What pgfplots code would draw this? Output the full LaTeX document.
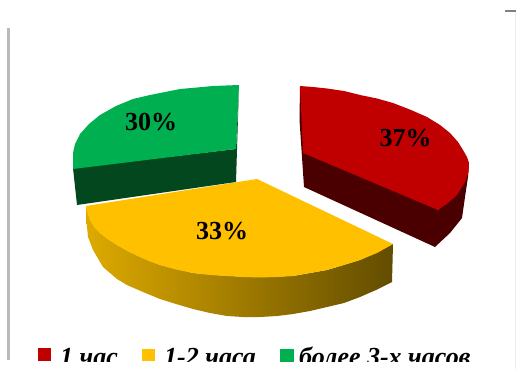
\documentclass[border=0pt]{standalone}
\usepackage{pgfplots}
\pgfplotsset{compat=1.18}
\usepackage{fontspec}
\setmainfont{Liberation Serif}
\definecolor{cred}{HTML}{C00000}
\definecolor{cdred}{HTML}{4A0000}
\definecolor{cyel}{HTML}{FFC000}
\definecolor{cgre}{HTML}{00B050}
\definecolor{cdgre}{HTML}{03471F}
\begin{document}
\begin{tikzpicture}
\begin{axis}[
  scale only axis, width=516pt, height=369pt,
  xmin=0, xmax=516, ymin=0, ymax=369, y dir=reverse,
  axis lines=none, clip=true,
  every axis plot/.append style={line width=0pt, draw=none}
]
% white page, which also fixes the extent of the picture
\addplot[fill=white] coordinates {(0,0) (516,0) (516,369) (0,369)} -- cycle;
% frame lines
\addplot[draw=black!27, line width=2.6pt] coordinates {(8.5,28) (8.5,360)};
\addplot[draw=black!50, line width=2pt] coordinates {(505,11) (516,11)};
\addplot[draw=black!7, line width=1pt] coordinates {(515,12) (515,369)};
% yellow side (gradient)
\addplot[draw=none, left color={rgb,255:red,222;green,170;blue,0}, right color={rgb,255:red,98;green,76;blue,0}] coordinates {
(86,206) (86.5,222) (88,237) (93,250) (103,267) (117,279) (127,285) (143,292) (160,299) (176,304) (193,309) (210,313) (227,316) (243,317) (260,317) (277,316) (293,314) (310,311) (327,307) (344,303) (360,297) (376,290) (392,282) (393,244)
(360,260) (327,270) (293,276) (260,277) (227,276) (193,273) (160,265) (140,257) (117,245) (100,233) (90,220)} -- cycle;
% yellow top
\addplot[fill=cyel] coordinates {
(86,206) (257,179) (393,244) (377,253) (360,260) (344,265) (327,270) (310,273) (293,276) (277,277) (260,277.5) (243,277) (227,276) (210,275) (193,273) (176,269.5) (160,265) (150,261.5) (140,257) (128,251.5) (117,245) (108,239.5) (100,233) (94,227) (90,220) (87,212)} -- cycle;
% green
\addplot[fill=cdgre] coordinates {(73,168) (77,205) (236,182) (239,85) (236,149)} -- cycle;
\addplot[fill=cgre] coordinates {
(239,85) (226,85.5) (213,86) (197,87.5) (180,89) (165,92) (150,95) (133,99) (116,106) (100,115) (89,124) (80,134) (75,144) (73,153) (73,169) (236,149)} -- cycle;
% red
\addplot[fill=cdred] coordinates {(300,86) (299.5,120) (304,187) (435,247) (450,233) (462,218) (465,197) (468,177) (469,163) (438,210)} -- cycle;
\addplot[fill=cred] coordinates {
(300,86) (313,87) (327,88.5) (344,91) (360,95) (377,98.5) (393,103) (411,110) (427,117) (440,125) (450,133) (458,142) (463,150) (467,157) (469,163) (468.5,172) (465,182) (457,195) (448,203) (438,210) (303,153)} -- cycle;
% data labels
\node[font=\fontsize{26}{26}\selectfont\bfseries, text=black, inner sep=0pt, anchor=base] at (axis cs:151,130) {30\%};
\node[font=\fontsize{26}{26}\selectfont\bfseries, text=black, inner sep=0pt, anchor=base] at (axis cs:405.5,146) {37\%};
\node[font=\fontsize{26}{26}\selectfont\bfseries, text=black, inner sep=0pt, anchor=base] at (axis cs:222,239.5) {33\%};
% legend keys
\addplot[fill=cred] coordinates {(38,348) (51,348) (51,361) (38,361)} -- cycle;
\addplot[fill=cyel] coordinates {(142,349) (155,349) (155,361) (142,361)} -- cycle;
\addplot[fill=cgre] coordinates {(280,349) (294,349) (294,362) (280,362)} -- cycle;
\node[font=\fontsize{26}{26}\selectfont\bfseries\itshape, inner sep=0pt, anchor=base west] at (axis cs:60,365) {1 час};
\node[font=\fontsize{26}{26}\selectfont\bfseries\itshape, inner sep=0pt, anchor=base west] at (axis cs:164,365) {1-2 часа};
\node[font=\fontsize{26}{26}\selectfont\bfseries\itshape, inner sep=0pt, anchor=base west] at (axis cs:299,365) {более 3-х часов};
% the reference is cut off below the legend
\addplot[fill=white] coordinates {(30,362) (514,362) (514,369) (30,369)} -- cycle;
\end{axis}
\end{tikzpicture}
\end{document}
